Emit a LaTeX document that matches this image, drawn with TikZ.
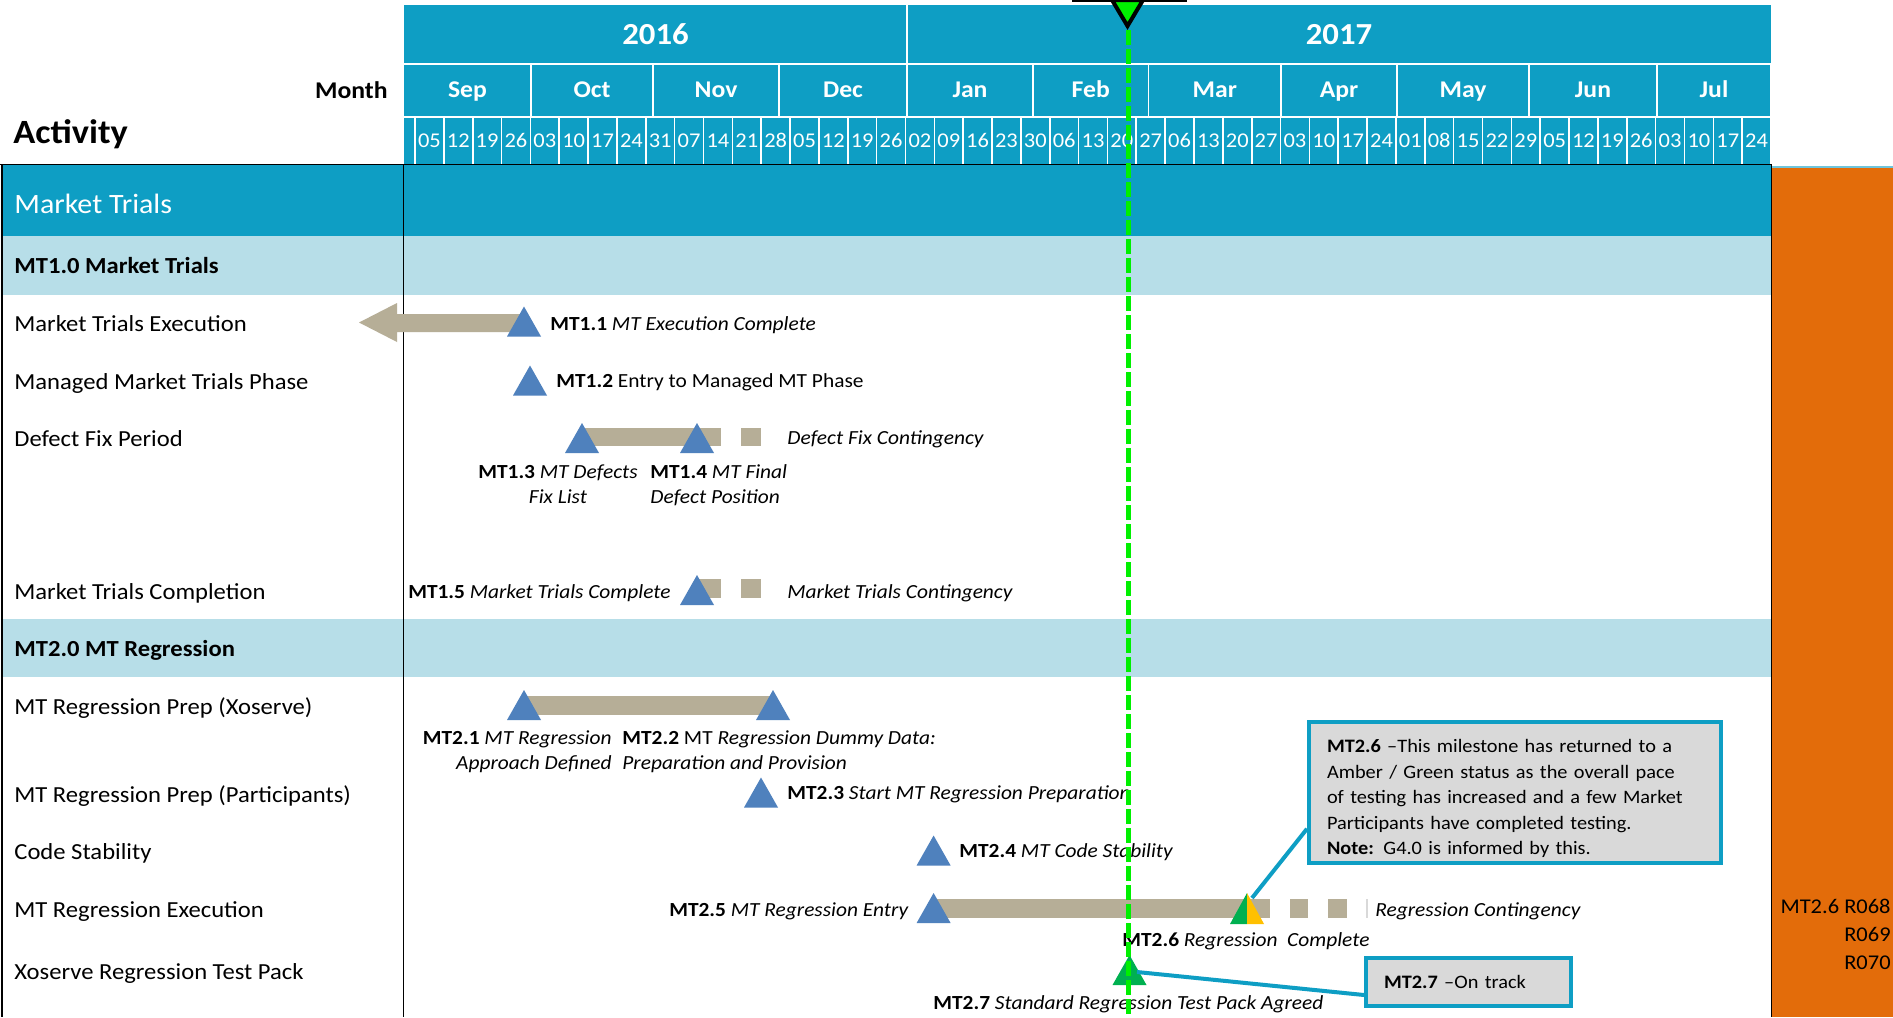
\documentclass[tikz,border=0pt]{standalone}
\usepackage{fontspec}
\setmainfont{Carlito}[FakeStretch=1.07]
\usetikzlibrary{calc}
\definecolor{hdr}{RGB}{14,158,196}
\definecolor{lightrow}{RGB}{183,222,232}
\definecolor{tanbar}{RGB}{182,174,151}
\definecolor{msblue}{RGB}{79,129,189}
\definecolor{msgreen}{RGB}{0,176,80}
\definecolor{msamber}{RGB}{255,192,0}
\definecolor{todaygreen}{RGB}{0,240,0}
\definecolor{boxfill}{RGB}{217,217,217}
\definecolor{orangecol}{RGB}{227,108,10}
\newcommand{\mstone}[3][msblue]{\fill[#1] ({#2-17},{#3+15}) -- (#2,{#3-15}) -- ({#2+17},{#3+15}) -- cycle;}
\begin{document}
\begin{tikzpicture}[x=0.5pt,y=-0.5pt,
  every node/.style={inner sep=0pt},
  yearlbl/.style={text=white, font=\bfseries\fontsize{15.3}{18}\selectfont, text height=9.7pt, text depth=0pt},
  monthlbl/.style={text=white, font=\bfseries\fontsize{12}{14}\selectfont, text height=7.6pt, text depth=0pt},
  daylbl/.style={text=white, font=\fontsize{10.5}{12}\selectfont, text height=6.6pt, text depth=0pt},
  headlbl/.style={font=\bfseries\fontsize{17}{20}\selectfont, text height=10.7pt, text depth=0pt},
  monthhead/.style={font=\bfseries\fontsize{12}{14}\selectfont, text height=7.6pt, text depth=0pt},
  sect/.style={text=white, font=\fontsize{14}{16}\selectfont, text height=8.8pt, text depth=0pt, anchor=west},
  rowlbl/.style={font=\fontsize{11.5}{14}\selectfont, text height=7.3pt, text depth=0pt, anchor=west},
  lbl/.style={font=\fontsize{10}{12}\selectfont, text height=6.3pt, text depth=0pt},
  orangetxt/.style={font=\fontsize{10.5}{12}\selectfont, text height=6.6pt, text depth=0pt, anchor=east},
  sep/.style={white, line width=0.8pt},
  border/.style={black, line width=0.8pt},
  callout/.style={draw=hdr, line width=2pt, fill=boxfill, align=left, font=\fontsize{9.5}{12.75}\selectfont, inner xsep=9pt, inner ysep=0pt},
  conn/.style={hdr, line width=2pt}]
\useasboundingbox (0,0) rectangle (1893,1017);
\fill[white] (0,0) rectangle (1893,1017);

% ---------- header ----------
\fill[hdr] (404,5) rectangle (1771,164);
\draw[sep, line width=1pt] (404,64) -- (1771,64);
\draw[sep, line width=1pt] (404,116.5) -- (1771,116.5);
\draw[sep] (907,5) -- (907,63);
\node[yearlbl] (y2016) at (655.5,35) {2016};
\node[yearlbl] (y2017) at (1339,35) {2017};
\foreach \a/\b/\m [count=\k] in {404/531/Sep,531/653/Oct,653/779/Nov,779/907/Dec,907/1033/Jan,1033/1148.5/Feb,1148.5/1281/Mar,1281/1397/Apr,1397/1529/May,1529/1657/Jun,1657/1771/Jul}{
  \node[monthlbl] (mon\k) at ({(\a+\b)/2},90) {\m};
  \draw[sep] (\b,65) -- (\b,116);
}
\foreach \i in {0,...,47}{
  \draw[sep] ({415+28.851*\i},117) -- ({415+28.851*\i},164);
}
\foreach \d [count=\i from 0] in {05,12,19,26,03,10,17,24,31,07,14,21,28,05,12,19,26,02,09,16,23,30,06,13,20,27,06,13,20,27,03,10,17,24,01,08,15,22,29,05,12,19,26,03,10,17,24}{
  \node[daylbl] (day\i) at ({415+28.851*(\i+0.5)},140.5) {\d};
}
\node[monthhead, anchor=east] (monthh) at (388,91) {Month};
\node[headlbl, anchor=west] (activity) at (13,133) {Activity};

% ---------- body rows ----------
\fill[hdr] (2,165) rectangle (1771,236);
\fill[lightrow] (2,236) rectangle (1771,295);
\fill[lightrow] (2,619) rectangle (1771,677);
\fill[orangecol] (1772,168) rectangle (1893,1017);
\draw[hdr!60, line width=1pt] (1772,166.5) -- (1893,166.5);
\draw[border] (0,164.5) -- (1772,164.5);
\draw[border] (2,164) -- (2,1017);
\draw[border] (403.5,164) -- (403.5,1017);
\draw[border] (1771.5,164) -- (1771.5,1017);

\node[sect] (s0) at (14,205) {Market Trials};
\node[rowlbl, font=\bfseries\fontsize{11.5}{14}\selectfont] (r10) at (14,266) {MT1.0 Market Trials};
\node[rowlbl] (r11) at (14,324) {Market Trials Execution};
\node[rowlbl] (r12) at (14,382) {Managed Market Trials Phase};
\node[rowlbl] (r13) at (14,439) {Defect Fix Period};
\node[rowlbl] (r15) at (14,592) {Market Trials Completion};
\node[rowlbl, font=\bfseries\fontsize{11.5}{14}\selectfont] (r20) at (14,649) {MT2.0 MT Regression};
\node[rowlbl] (r21) at (14,707) {MT Regression Prep (Xoserve)};
\node[rowlbl] (r23) at (14,795) {MT Regression Prep (Participants)};
\node[rowlbl] (r24) at (14,852) {Code Stability};
\node[rowlbl] (r25) at (14,910) {MT Regression Execution};
\node[rowlbl] (r27) at (14,972) {Xoserve Regression Test Pack};

% ---------- bars ----------
\fill[tanbar] (359,322.5) -- (397,303) -- (397,314) -- (524,314) -- (524,332) -- (397,332) -- (397,342) -- cycle;
\fill[tanbar] (582,428) rectangle (721,446);
\fill[tanbar] (741,428) rectangle (761,446);
\fill[tanbar] (697,579) rectangle (721,598);
\fill[tanbar] (741,579) rectangle (761,598);
\fill[tanbar] (524,696) rectangle (773,715);
\fill[tanbar] (933,899) rectangle (1270,918);
\fill[tanbar] (1290,899) rectangle (1308,918);
\fill[tanbar] (1328,899) rectangle (1347,918);
\draw[black!15, line width=0.6pt] (1367,899) -- (1367,918);

% ---------- milestones ----------
\mstone{524}{321.5}
\mstone{530}{380.5}
\mstone{582}{438}
\mstone{697}{438}
\mstone{697}{590}
\mstone{524}{705}
\mstone{773}{705}
\mstone{761}{792.5}
\mstone{933.6}{850.5}
\mstone{933.6}{908}
\fill[msgreen] (1230,924) -- (1247,893) -- (1247,924) -- cycle;
\fill[msamber] (1247,893) -- (1264,924) -- (1247,924) -- cycle;
\mstone[msgreen]{1129.5}{970}

% ---------- labels ----------
\node[lbl, anchor=west] (l11) at (550,324) {\textbf{MT1.1} \textit{MT Execution Complete}};
\node[lbl, anchor=west] (l12) at (556,381) {\textbf{MT1.2} Entry to Managed MT Phase};
\node[lbl, anchor=west] (lcont1) at (787,438) {\textit{Defect Fix Contingency}};
\node[lbl] (l13a) at (558,472) {\textbf{MT1.3} \textit{MT Defects}};
\node[lbl] (l13b) at (558,497) {\textit{Fix List}};
\node[lbl, anchor=west] (l14a) at (650,472) {\textbf{MT1.4} \textit{MT Final}};
\node[lbl, anchor=west] (l14b) at (650,497) {\textit{Defect Position}};
\node[lbl, anchor=east] (l15) at (671,592) {\textbf{MT1.5} \textit{Market Trials Complete}};
\node[lbl, anchor=west] (lcont2) at (787,592) {\textit{Market Trials Contingency}};
\node[lbl, anchor=east] (l21a) at (612,738) {\textbf{MT2.1} \textit{MT Regression}};
\node[lbl, anchor=east] (l21b) at (612,763) {\textit{Approach Defined}};
\node[lbl, anchor=west] (l22a) at (622,738) {\textbf{MT2.2} MT \textit{Regression Dummy Data:}};
\node[lbl, anchor=west] (l22b) at (622,763) {\textit{Preparation and Provision}};
\node[lbl, anchor=west] (l23) at (787,793) {\textbf{MT2.3} \textit{Start MT Regression Preparation}};
\node[lbl, anchor=west] (l24) at (959,851) {\textbf{MT2.4} \textit{MT Code Stability}};
\node[lbl, anchor=east] (l25) at (909,910) {\textbf{MT2.5} \textit{MT Regression Entry}};
\node[lbl, anchor=west] (lcont3) at (1375,910) {\textit{Regression Contingency}};
\node[lbl, anchor=west] (l26) at (1122,940) {\textbf{MT2.6} \textit{Regression\ \ Complete}};
\node[lbl, anchor=west] (l27) at (933,1003) {\textbf{MT2.7} \textit{Standard Regression Test Pack Agreed}};

% ---------- orange column text ----------
\node[orangetxt] (o1) at (1891,907) {MT2.6 R068};
\node[orangetxt] (o2) at (1891,935) {R069};
\node[orangetxt] (o3) at (1891,963) {R070};

% ---------- callouts ----------
\coordinate (t26) at (1252,898);
\node[callout, anchor=north west, text width=188pt, minimum height=70.5pt] (c26) at (1307,720)
  {\rule{0pt}{12.8pt}\textbf{MT2.6} --This milestone has returned to a\\Amber / Green status as the overall pace\\of testing has increased and a few Market\\Participants have completed testing.\\\textbf{Note:} G4.0 is informed by this.};
\draw[conn] (t26) -- ($(c26.south west)!0.25!(c26.north west)$);
\coordinate (t27) at (1137,972);
\node[callout, anchor=north west, text width=84.5pt, minimum height=24pt] (c27) at (1364,956)
  {\textbf{MT2.7} --On track};
\draw[conn] (t27) -- ($(c27.south west)!0.25!(c27.north west)$);

% ---------- today line and marker ----------
\draw[todaygreen, line width=2.2pt, dash pattern=on 7.5pt off 2pt] (1128.5,30) -- (1128.5,1017);
\draw[black, line width=1.5pt] (1072,0.8) -- (1187,0.8);
\filldraw[fill=todaygreen, draw=black, line width=2pt, line join=miter] (1112,0) -- (1143,0) -- (1127.5,26) -- cycle;
\end{tikzpicture}
\end{document}
